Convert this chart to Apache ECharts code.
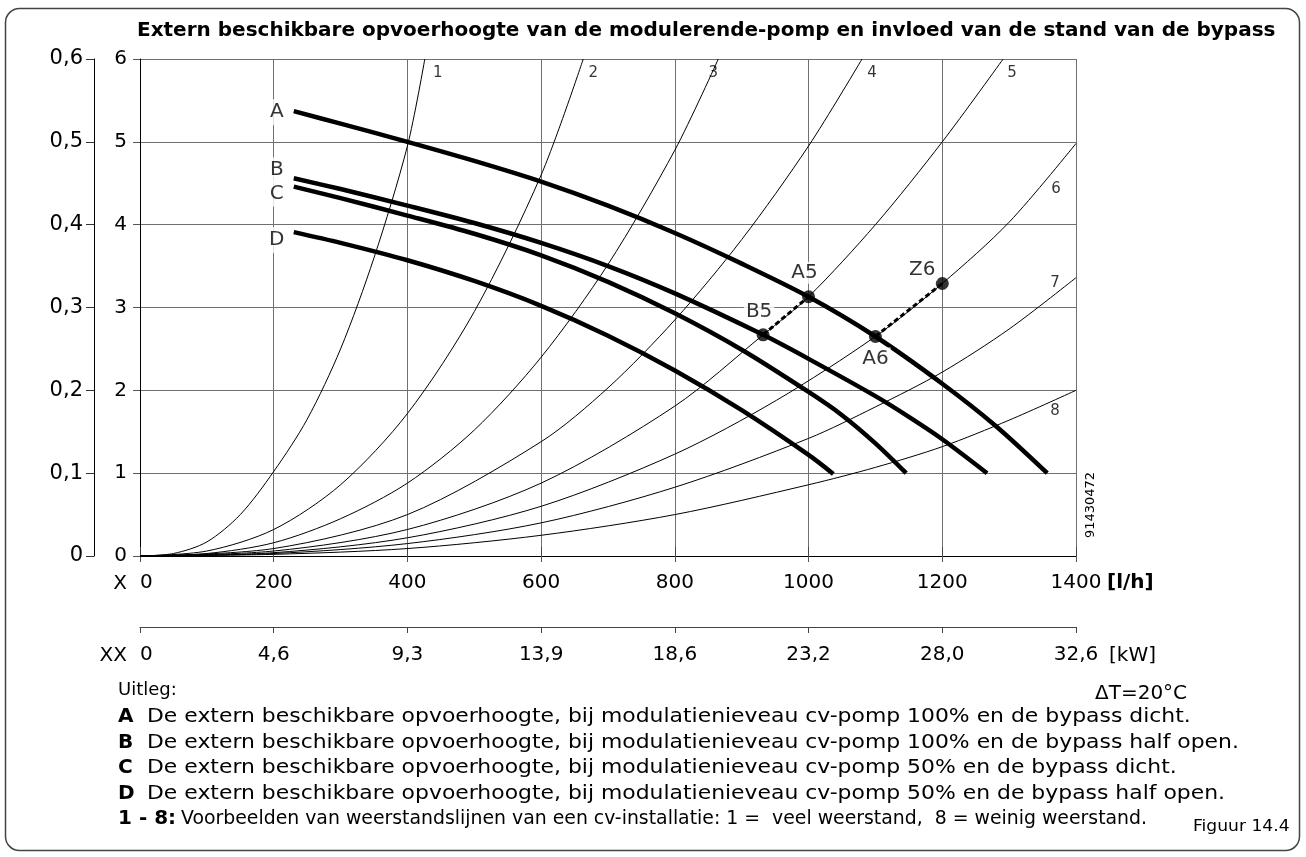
<!DOCTYPE html>
<html><head><meta charset="utf-8">
<script src="https://cdn.jsdelivr.net/npm/echarts@6/dist/echarts.min.js"></script>
<style>html,body{margin:0;padding:0;background:#fff}#c{width:1306px;height:857px}</style>
</head><body><div id="c"></div>
<script>
// ---------- data ----------
const titleText = 'Extern beschikbare opvoerhoogte van de modulerende-pomp en invloed van de stand van de bypass';
const xLabels = ['0','200','400','600','800','1000','1200','1400'];
const kwLabels = ['0','4,6','9,3','13,9','18,6','23,2','28,0','32,6'];
const mLabels = ['0','1','2','3','4','5','6'];
const barLabels = ['0','0,1','0,2','0,3','0,4','0,5','0,6'];

// pump curves [l/h, m]
const curveA = [[230,5.37],[300,5.22],[400,5.0],[500,4.77],[600,4.52],[700,4.23],[800,3.9],[900,3.53],[1000,3.13],[1100,2.65],[1200,2.08],[1280,1.57],[1357,1.0]];
const curveB = [[230,4.56],[300,4.43],[400,4.23],[500,4.02],[600,3.78],[700,3.50],[800,3.17],[932,2.67],[1000,2.38],[1100,1.93],[1150,1.68],[1200,1.41],[1267,1.0]];
const curveC = [[230,4.46],[300,4.32],[400,4.11],[500,3.89],[600,3.63],[700,3.31],[800,2.93],[900,2.49],[1000,1.98],[1050,1.70],[1100,1.36],[1146,1.0]];
const curveD = [[230,3.91],[300,3.78],[400,3.57],[500,3.32],[600,3.02],[700,2.66],[800,2.24],[900,1.76],[1000,1.22],[1037,0.99]];

// resistance lines 1..8
const line1 = [[0,0],[50,0.03],[100,0.17],[150,0.5],[200,1.02],[250,1.65],[300,2.5],[350,3.6],[400,4.95],[426,6]];
const line2 = [[0,0],[100,0.06],[200,0.32],[300,0.86],[400,1.72],[500,2.95],[600,4.6],[663,6]];
const line3 = [[0,0],[100,0.03],[200,0.16],[300,0.45],[400,0.88],[500,1.52],[600,2.4],[700,3.52],[800,4.9],[865,6]];
const line4 = [[0,0],[200,0.09],[400,0.5],[600,1.38],[700,2.03],[800,2.85],[900,3.82],[1000,4.95],[1080,6]];
const line5 = [[0,0],[200,0.06],[400,0.32],[600,0.88],[800,1.81],[932,2.67],[1000,3.13],[1100,4.0],[1200,5.0],[1291,6]];
const line6 = [[0,0],[200,0.04],[400,0.22],[600,0.6],[800,1.23],[952,1.88],[1100,2.65],[1200,3.29],[1300,4.03],[1400,4.98]];
const line7 = [[0,0],[200,0.03],[400,0.15],[600,0.4],[800,0.83],[1000,1.42],[1100,1.8],[1200,2.22],[1300,2.74],[1400,3.36]];
const line8 = [[0,0],[200,0.02],[400,0.09],[600,0.25],[800,0.5],[1000,0.86],[1100,1.07],[1200,1.32],[1300,1.64],[1400,2.0]];

// operating points
const pB5 = [932,2.67], pA5 = [1000,3.13], pA6 = [1100,2.65], pZ6 = [1200,3.29];

const legendRows = [
  ['A','De extern beschikbare opvoerhoogte, bij modulatienieveau cv-pomp 100% en de bypass dicht.'],
  ['B','De extern beschikbare opvoerhoogte, bij modulatienieveau cv-pomp 100% en de bypass half open.'],
  ['C','De extern beschikbare opvoerhoogte, bij modulatienieveau cv-pomp 50% en de bypass dicht.'],
  ['D','De extern beschikbare opvoerhoogte, bij modulatienieveau cv-pomp 50% en de bypass half open.']
];
const noteKey = '1 - 8:';
const noteText = 'Voorbeelden van weerstandslijnen van een cv-installatie: 1 =  veel weerstand,  8 = weinig weerstand.';

// ---------- chart ----------
const FONT = '"DejaVu Sans", sans-serif';
const chart = echarts.init(document.getElementById('c'));

const resLines = [line1,line2,line3,line4,line5,line6,line7,line8];
const resNames = ['1','2','3','4','5','6','7','8'];
const resOffsets = [[13,14],[10,14],[-5,14],[10,14],[9,14],[-20,46],[-21,5],[-21,21]];
const curves = [curveA,curveB,curveC,curveD];
const curveNames = ['A','B','C','D'];
const curveOffsets = [[-17,1],[-17,-8],[-17,7],[-17,8]];

const series = [];
resLines.forEach((d,i)=>series.push({
  name:'L'+resNames[i], type:'line', data:d, smooth:0.3, showSymbol:false, silent:true, z:2,
  lineStyle:{color:'#000', width:1}
}));
curves.forEach((d,i)=>series.push({
  name:curveNames[i], type:'line', data:d, smooth:0.3, showSymbol:false, silent:true, z:3,
  lineStyle:{color:'#000', width:4.5, cap:'butt'}
}));
[[pB5,pA5],[pA6,pZ6]].forEach(seg=>series.push({
  type:'line', data:seg, showSymbol:false, silent:true, z:4,
  lineStyle:{color:'#000', width:3, type:[5,3]}
}));
const lbl = {show:true, position:'inside', align:'center', verticalAlign:'middle', color:'#000', fontFamily:FONT};
series.push({
  type:'scatter', symbolSize:13, z:6, silent:true, itemStyle:{color:'#000'},
  data:[
    {value:pA5, label:{...lbl, formatter:'A5', fontSize:20, offset:[-4,-24], backgroundColor:'#fff', padding:[1,2]}},
    {value:pB5, label:{...lbl, formatter:'B5', fontSize:20, offset:[-4,-23], backgroundColor:'#fff', padding:[1,2]}},
    {value:pA6, label:{...lbl, formatter:'A6', fontSize:20, offset:[0,22], backgroundColor:'#fff', padding:[1,2]}},
    {value:pZ6, label:{...lbl, formatter:'Z6', fontSize:20, offset:[-20,-14], backgroundColor:'#fff', padding:[1,2]}}
  ]
});
series.push({
  type:'scatter', symbolSize:1, z:7, silent:true, itemStyle:{color:'rgba(0,0,0,0)'},
  data: resLines.map((d,i)=>({value:d[d.length-1], label:{...lbl, formatter:resNames[i], fontSize:15, offset:resOffsets[i]}}))
    .concat(curves.map((d,i)=>({value:d[0], label:{...lbl, formatter:curveNames[i], fontSize:20, offset:curveOffsets[i], backgroundColor:'#fff', padding:[3,2]}})))
});

const axisTxt = {color:'#000', fontSize:20, fontFamily:FONT};
const txt = (text,x,y,opt={},extra={}) => Object.assign({type:'text', silent:true, x, y,
  style:Object.assign({text, x:0, y:0, fill:'#000', font:'20px '+FONT, align:'left', verticalAlign:'middle', textAlign:'left', textVerticalAlign:'middle'}, opt)}, extra);

const graphics = [
  {type:'rect', silent:true, shape:{x:5.5,y:8.5,width:1294,height:842,r:14}, style:{fill:'none', stroke:'#444', lineWidth:1.5}},
  txt('X',127,584,{align:'right',textAlign:'right'}),
  txt('XX',127,656,{align:'right',textAlign:'right'}),
  txt('[l/h]',1107,583,{font:'bold 20px '+FONT}),
  txt('[kW]',1109,656),
  txt('Uitleg:',118,690,{font:'18px '+FONT}),
  txt('ΔT=20°C',1095,694),
  txt('91430472',1091,505,{font:'13px '+FONT, align:'center', textAlign:'center'},{rotation:Math.PI/2}),
  txt(noteKey,118,819,{font:'bold 20px '+FONT}),
  txt(noteText,181,819,{}, {scaleX:0.943}),
  txt('Figuur 14.4',1193,827,{font:'16px '+FONT},{scaleX:1.07})
];
legendRows.forEach((r,i)=>{
  const y = 717 + i*25.5;
  graphics.push(txt(r[0],118,y,{font:'bold 20px '+FONT}));
  graphics.push(txt(r[1],147,y,{},{scaleX:1.095}));
});

chart.setOption({
  animation:false,
  backgroundColor:'#fff',
  title:{text:titleText, left:137, top:21, padding:0, textStyle:{fontSize:20, fontWeight:'bold', fontFamily:FONT, color:'#000'}},
  grid:{left:140, top:59, width:936, height:497},
  xAxis:[
    {type:'value', min:0, max:1400, interval:200, position:'bottom',
     axisLine:{show:true, onZero:false, lineStyle:{color:'#000', width:1}},
     axisTick:{show:true, length:6, lineStyle:{color:'#555'}},
     axisLabel:{...axisTxt, margin:17, alignMinLabel:'left', formatter:v=>xLabels[Math.round(v/200)]},
     splitLine:{show:true, lineStyle:{color:'#707070', width:1}}},
    {type:'value', min:0, max:1400, interval:200, position:'bottom', offset:71,
     axisLine:{show:true, onZero:false, lineStyle:{color:'#444', width:1}},
     axisTick:{show:true, length:6, lineStyle:{color:'#444'}},
     axisLabel:{...axisTxt, margin:18, alignMinLabel:'left', formatter:v=>kwLabels[Math.round(v/200)]},
     splitLine:{show:false}},
    {type:'value', min:0, max:1400, interval:200, position:'bottom', offset:71,
     axisLine:{show:false}, axisLabel:{show:false},
     axisTick:{show:true, inside:true, length:9, lineStyle:{color:'#444'}},
     splitLine:{show:false}}
  ],
  yAxis:[
    {type:'value', min:0, max:6, interval:1, position:'left',
     axisLine:{show:true, onZero:false, lineStyle:{color:'#000', width:1}},
     axisTick:{show:true, length:7, lineStyle:{color:'#555'}},
     axisLabel:{...axisTxt, margin:13, formatter:v=>mLabels[Math.round(v)]},
     splitLine:{show:true, lineStyle:{color:'#707070', width:1}}},
    {type:'value', min:0, max:0.6, interval:0.1, position:'left', offset:46,
     axisLine:{show:true, onZero:false, lineStyle:{color:'#000', width:1}},
     axisTick:{show:true, length:8, lineStyle:{color:'#333'}},
     axisLabel:{...axisTxt, fontSize:21, margin:11, formatter:v=>barLabels[Math.round(v*10)]},
     splitLine:{show:false}}
  ],
  series,
  graphic:graphics
});
</script></body></html>
